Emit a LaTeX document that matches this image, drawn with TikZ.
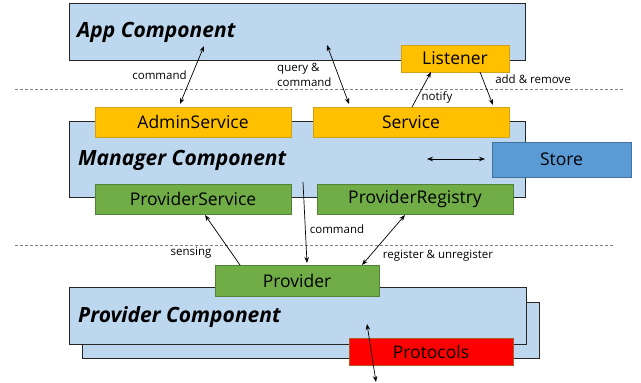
\documentclass[tikz,border=0pt]{standalone}
\usepackage{fontspec}
\setmainfont{Open Sans}
\usetikzlibrary{arrows.meta}
\definecolor{compblue}{HTML}{BDD7EE}
\definecolor{orangefill}{HTML}{FFC000}
\definecolor{orangeline}{HTML}{D4A017}
\definecolor{greenfill}{HTML}{70AD47}
\definecolor{greenline}{HTML}{538135}
\definecolor{storefill}{HTML}{5B9BD5}
\definecolor{storeline}{HTML}{41719C}
\definecolor{redfill}{HTML}{FF0000}
\definecolor{redline}{HTML}{AE5A21}
\tikzset{
  comp/.style={draw=black!85, line width=1pt, fill=compblue, anchor=north west, inner sep=0pt, outer sep=0pt},
  boxfont/.style={font=\fontsize{17.5}{20}\selectfont},
  orangebox/.style={draw=orangeline, line width=0.8pt, fill=orangefill, anchor=north west, inner sep=0pt, outer sep=0pt, boxfont},
  greenbox/.style={draw=greenline, line width=0.8pt, fill=greenfill, anchor=north west, inner sep=0pt, outer sep=0pt, boxfont},
  storebox/.style={draw=storeline, line width=0.8pt, fill=storefill, anchor=north west, inner sep=0pt, outer sep=0pt, boxfont},
  redbox/.style={draw=redline, line width=0.8pt, fill=redfill, anchor=north west, inner sep=0pt, outer sep=0pt, boxfont},
  title/.style={anchor=west, inner sep=0pt, font=\fontsize{21}{24}\selectfont\bfseries\itshape},
  lbl/.style={inner sep=0pt, font=\fontsize{11.5}{15}\selectfont},
  sep/.style={draw=black!50, line width=0.6pt, dash pattern=on 3pt off 2pt},
  arr/.style={line width=0.7pt, -{Stealth[length=6pt,width=4.5pt]}},
  darr/.style={line width=0.7pt, {Stealth[length=6pt,width=4.5pt]}-{Stealth[length=6pt,width=4.5pt]}},
}
\begin{document}
\begin{tikzpicture}[x=1pt,y=-1pt]
\useasboundingbox (0,0) rectangle (641,383);
% separators
\coordinate (s1a) at (15,89); \coordinate (s1b) at (623,89);
\coordinate (s2a) at (15,245); \coordinate (s2b) at (613,245);
\draw[sep] (s1a) -- (s1b);
\draw[sep] (s2a) -- (s2b);
% app component
\node[comp, minimum width=456pt, minimum height=57pt] (app) at (69,3) {};
\node[title] (apptitle) at (77,32) {App Component};
\node[orangebox, minimum width=108pt, minimum height=27pt] (listener) at (401,45) {Listener};
% manager component
\node[comp, minimum width=456pt, minimum height=76pt] (mgr) at (69,121) {};
\node[title] (mgrtitle) at (78,160) {Manager Component};
\node[orangebox, minimum width=196pt, minimum height=30pt] (admin) at (95,107) {AdminService};
\node[orangebox, minimum width=196pt, minimum height=30pt] (service) at (313,107) {Service};
\node[greenbox, minimum width=196pt, minimum height=30pt] (psvc) at (95,184) {ProviderService};
\node[greenbox, minimum width=196pt, minimum height=30pt] (preg) at (317,184) {ProviderRegistry};
\node[storebox, minimum width=139pt, minimum height=35pt] (store) at (492,142) {Store};
% provider component
\node[comp, minimum width=457pt, minimum height=56pt] (pback) at (82,302) {};
\node[comp, minimum width=457pt, minimum height=57pt] (pcomp) at (69,287) {};
\node[title] (pctitle) at (78,317) {Provider Component};
\node[greenbox, minimum width=164pt, minimum height=31pt] (provider) at (215,265) {Provider};
\node[redbox, minimum width=164pt, minimum height=27pt] (protocols) at (349,338) {Protocols};
% connector end points
\coordinate (c1a) at (204,46); \coordinate (c1b) at (180,104);
\coordinate (c2a) at (327,45); \coordinate (c2b) at (349,104);
\coordinate (c3a) at (412,107); \coordinate (c3b) at (431,72);
\coordinate (c4a) at (480,72); \coordinate (c4b) at (493,105);
\coordinate (c5a) at (427,159); \coordinate (c5b) at (485,159);
\coordinate (c6a) at (303,182); \coordinate (c6b) at (307,263);
\coordinate (c7a) at (240,265); \coordinate (c7b) at (205,215);
\coordinate (c8a) at (362,265); \coordinate (c8b) at (405,215);
\coordinate (c9a) at (367,324); \coordinate (c9b) at (376,382);
% connectors
\draw[darr] (c1a) -- (c1b);
\draw[darr] (c2a) -- (c2b);
\draw[arr] (c3a) -- (c3b);
\draw[arr] (c4a) -- (c4b);
\draw[darr] (c5a) -- (c5b);
\draw[arr] (c6a) -- (c6b);
\draw[arr] (c7a) -- (c7b);
\draw[darr] (c8a) -- (c8b);
\draw[darr] (c9a) -- (c9b);
% labels
\node[lbl] (l1) at (159.5,75) {command};
\node[lbl, anchor=west, align=left] (l2) at (277,75) {query \&\\command};
\node[lbl] (l3) at (437,97) {notify};
\node[lbl] (l4) at (533,79) {add \& remove};
\node[lbl] (l5) at (337,229) {command};
\node[lbl] (l6) at (191,253) {sensing};
\node[lbl] (l7) at (438,256) {register \& unregister};
\end{tikzpicture}
\end{document}
